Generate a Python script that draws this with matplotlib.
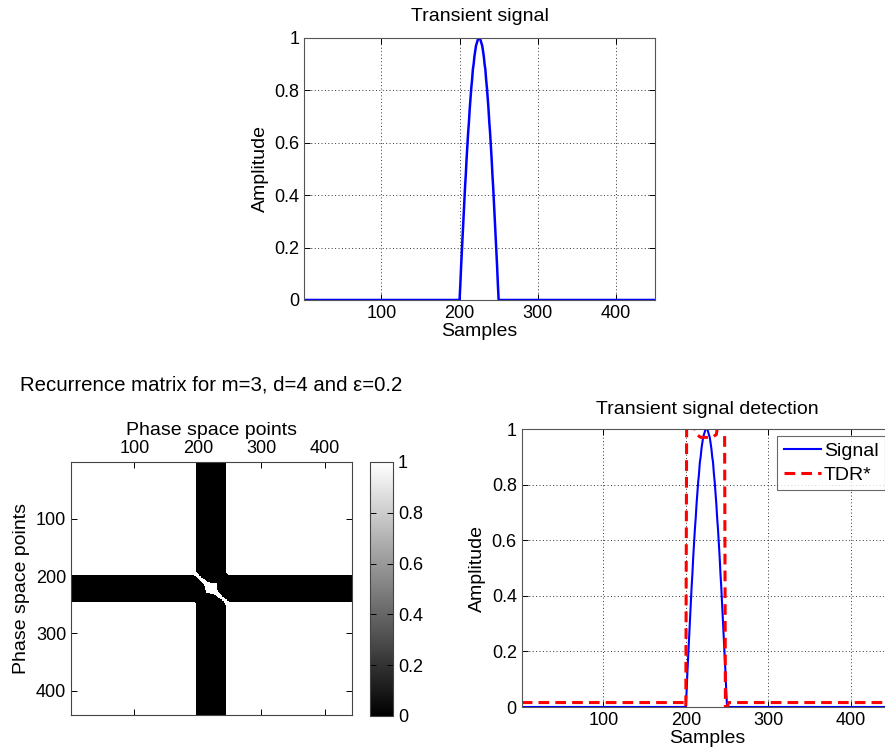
import numpy as np
import matplotlib.pyplot as plt

plt.rcParams['font.family'] = ['Liberation Sans', 'DejaVu Sans']

# signal: 450 samples, zero except a half-sine pulse on samples 200..250
n_samples = 450
pulse_start = 200
pulse = [0.00, 0.06, 0.13, 0.19, 0.25, 0.31, 0.37, 0.43, 0.48, 0.54,
         0.59, 0.64, 0.68, 0.73, 0.77, 0.81, 0.84, 0.88, 0.90, 0.93,
         0.95, 0.97, 0.98, 0.99, 1.00, 1.00, 1.00, 0.99, 0.98, 0.97,
         0.95, 0.93, 0.90, 0.88, 0.84, 0.81, 0.77, 0.73, 0.68, 0.64,
         0.59, 0.54, 0.48, 0.43, 0.37, 0.31, 0.25, 0.19, 0.13, 0.06, 0.00]

# TDR* detection curve (breakpoints)
tdr_x = [1, 198, 200, 201, 209, 213, 218, 225, 232, 237, 239, 247, 248, 250, 252, 450]
tdr_y = [0.016, 0.016, 0.0, 1.02, 1.02, 0.98, 0.97, 0.97, 0.97, 0.98, 1.02, 1.02, 0.0, 0.0, 0.016, 0.016]

# embedding parameters from the title
m_dim = 3
delay = 4
eps = 0.2

x_ticks = [100, 200, 300, 400]
y_ticks = [0, 0.2, 0.4, 0.6, 0.8, 1]
y_labels = ['0', '0.2', '0.4', '0.6', '0.8', '1']
cb_ticks = [0, 0.2, 0.4, 0.6, 0.8, 1]

samples = np.arange(1, n_samples + 1)
signal = np.zeros(n_samples)
signal[pulse_start - 1:pulse_start - 1 + len(pulse)] = pulse

# recurrence matrix (rms distance between embedded vectors)
n_pts = n_samples - (m_dim - 1) * delay
emb = np.column_stack([signal[k * delay:k * delay + n_pts] for k in range(m_dim)])
dist = np.sqrt(((emb[:, None, :] - emb[None, :, :]) ** 2).mean(axis=2))
rec = (dist < eps).astype(float)

FS = 13
grid_kw = dict(color='#333333', linestyle=(0, (1, 2.5)), linewidth=0.7)


def style_axes(ax):
    ax.tick_params(direction='in', top=True, right=True, labelsize=FS, length=4, width=0.7)
    for s in ax.spines.values():
        s.set_linewidth(0.8)
        s.set_color('#555555')


fig = plt.figure(figsize=(8.85, 7.54), dpi=100)
W, H = 885.0, 754.0


def pos(l, t, r, b):
    return [l / W, 1 - b / H, (r - l) / W, (b - t) / H]


# top: transient signal
ax1 = fig.add_axes(pos(304, 38, 655, 300))
ax1.plot(samples, signal, color='#0000ff', linewidth=1.8)
ax1.set_xlim(1, n_samples)
ax1.set_ylim(0, 1)
ax1.set_xticks(x_ticks)
ax1.set_yticks(y_ticks)
ax1.set_yticklabels(y_labels)
ax1.grid(True, **grid_kw)
style_axes(ax1)
ax1.set_title('Transient signal', fontsize=14, pad=12)
ax1.set_xlabel('Samples', fontsize=14, labelpad=1)
ax1.set_ylabel('Amplitude', fontsize=14, labelpad=4)

# bottom left: recurrence matrix
ax2 = fig.add_axes(pos(71, 462, 352, 715))
im = ax2.imshow(rec, cmap='gray', vmin=0, vmax=1, aspect='auto', interpolation='nearest',
                extent=[0.5, n_pts + 0.5, n_pts + 0.5, 0.5])
ax2.set_xticks(x_ticks)
ax2.set_yticks(x_ticks)
ax2.xaxis.set_ticks_position('both')
ax2.tick_params(direction='in', labeltop=True, labelbottom=False, top=True, bottom=True,
                left=True, right=True, labelsize=FS, length=4, width=0.7)
for s in ax2.spines.values():
    s.set_linewidth(0.8)
    s.set_color('#444444')
ax2.xaxis.set_label_position('top')
ax2.set_xlabel('Phase space points', fontsize=14, labelpad=4)
ax2.set_ylabel('Phase space points', fontsize=14, labelpad=4)
ax2.text(0.5, 1.305, 'Recurrence matrix for m=3, d=4 and \u03b5=0.2', transform=ax2.transAxes,
         ha='center', va='center', fontsize=14.7)

cax = fig.add_axes(pos(370, 462, 393, 716))
cb = fig.colorbar(im, cax=cax, ticks=cb_ticks)
cb.ax.set_yticklabels(y_labels)
cb.ax.tick_params(direction='in', left=True, right=True, labelsize=FS, length=4, width=0.7)
cb.outline.set_linewidth(0.8)
cb.outline.set_edgecolor('#444444')

# bottom right: detection
ax3 = fig.add_axes(pos(521.7, 429, 892, 707))
ax3.plot(samples, signal, color='#0000ff', linewidth=1.5, label='Signal')
ax3.plot(tdr_x, tdr_y, color='#ff0000', linestyle=(0, (3.5, 2)), linewidth=2.2, label='TDR*')
ax3.set_xlim(1, n_samples)
ax3.set_ylim(0, 1)
ax3.set_xticks(x_ticks)
ax3.set_yticks(y_ticks)
ax3.set_yticklabels(y_labels)
ax3.grid(True, **grid_kw)
style_axes(ax3)
ax3.set_title('Transient signal detection', fontsize=14, pad=11)
ax3.set_xlabel('Samples', fontsize=14, labelpad=1)
ax3.set_ylabel('Amplitude', fontsize=14, labelpad=4)
leg = ax3.legend(loc='upper right', fontsize=14, frameon=True, fancybox=False,
                 handlelength=1.9, handletextpad=0.15, borderaxespad=0.35,
                 borderpad=0.35, labelspacing=0.3)
leg.get_frame().set_edgecolor('#444444')
leg.get_frame().set_linewidth(0.8)

fig.savefig('out.png', dpi=100)
